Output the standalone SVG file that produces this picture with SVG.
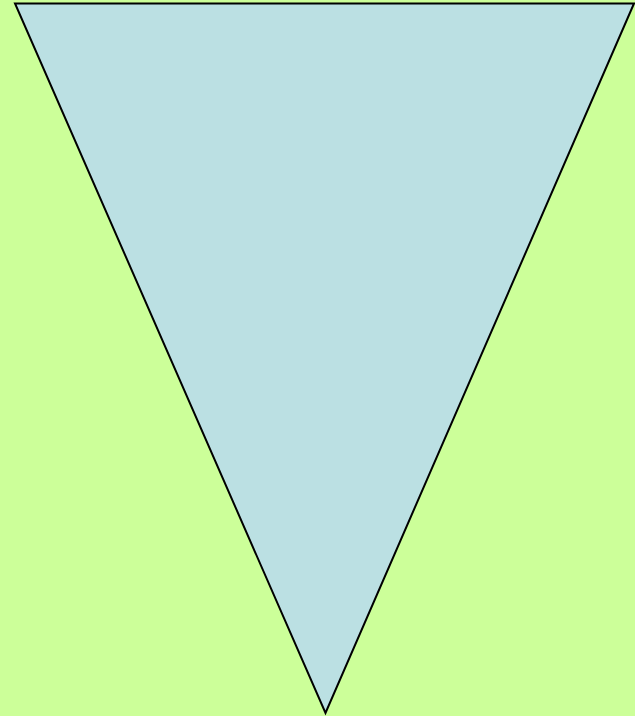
<svg xmlns="http://www.w3.org/2000/svg" width="635" height="716" viewBox="0 0 635 716">
<style>.tri{fill:#BBE0E3;stroke:#000;stroke-width:2;stroke-linejoin:miter}</style>
<rect width="635" height="716" fill="#CCFF99"/>
<g id="triangle">
<polygon class="tri" points="15,3.5 634,3.5 325.5,713"/>
</g>
</svg>
